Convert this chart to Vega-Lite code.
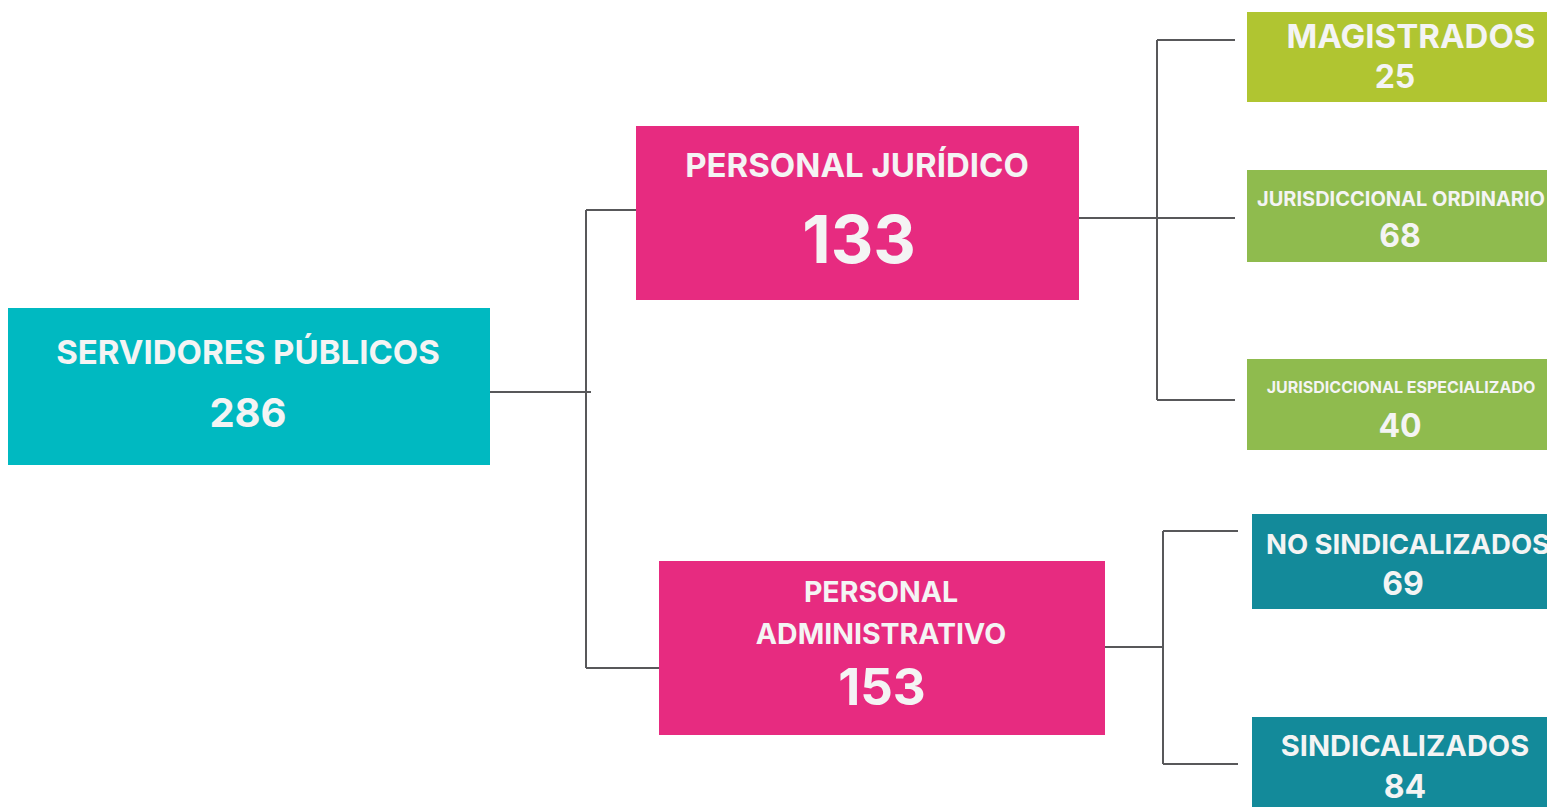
{
  "$schema": "https://vega.github.io/schema/vega-lite/v6.json",
  "width": 1547,
  "height": 807,
  "autosize": {"type": "none"},
  "padding": 0,
  "background": "white",
  "config": {"view": {"stroke": null}},
  "datasets": {
    "boxes": [
      {"id": "SERVIDORES PÚBLICOS", "group": "root", "x0": 8, "x1": 490, "y0": 308, "y1": 465},
      {"id": "PERSONAL JURÍDICO", "group": "mid", "x0": 636, "x1": 1079, "y0": 126, "y1": 300},
      {"id": "PERSONAL ADMINISTRATIVO", "group": "mid", "x0": 659, "x1": 1105, "y0": 561, "y1": 735},
      {"id": "MAGISTRADOS", "group": "mag", "x0": 1247, "x1": 1547, "y0": 12, "y1": 102},
      {"id": "JURISDICCIONAL ORDINARIO", "group": "jur", "x0": 1247, "x1": 1547, "y0": 170, "y1": 262},
      {"id": "JURISDICCIONAL ESPECIALIZADO", "group": "jur", "x0": 1247, "x1": 1547, "y0": 359, "y1": 450},
      {"id": "NO SINDICALIZADOS", "group": "adm", "x0": 1252, "x1": 1547, "y0": 514, "y1": 609},
      {"id": "SINDICALIZADOS", "group": "adm", "x0": 1252, "x1": 1547, "y0": 717, "y1": 807}
    ],
    "edges": [
      {"x0": 490, "y0": 392, "x1": 591, "y1": 392},
      {"x0": 586, "y0": 210, "x1": 586, "y1": 668},
      {"x0": 586, "y0": 210, "x1": 636, "y1": 210},
      {"x0": 586, "y0": 668, "x1": 659, "y1": 668},
      {"x0": 1079, "y0": 218, "x1": 1235, "y1": 218},
      {"x0": 1157, "y0": 40, "x1": 1157, "y1": 400},
      {"x0": 1157, "y0": 40, "x1": 1235, "y1": 40},
      {"x0": 1157, "y0": 400, "x1": 1235, "y1": 400},
      {"x0": 1105, "y0": 647, "x1": 1163, "y1": 647},
      {"x0": 1163, "y0": 531, "x1": 1163, "y1": 764},
      {"x0": 1163, "y0": 531, "x1": 1238, "y1": 531},
      {"x0": 1163, "y0": 764, "x1": 1238, "y1": 764}
    ],
    "labels": [
      {"text": "SERVIDORES PÚBLICOS", "role": "root_t", "x": 248, "y": 354},
      {"text": "286", "role": "root_n", "x": 248, "y": 415},
      {"text": "PERSONAL JURÍDICO", "role": "pj_t", "x": 857, "y": 167},
      {"text": "133", "role": "pj_n", "x": 859, "y": 243},
      {"text": "PERSONAL", "role": "pa_t", "x": 881, "y": 593},
      {"text": "ADMINISTRATIVO", "role": "pa_t", "x": 881, "y": 635},
      {"text": "153", "role": "pa_n", "x": 882, "y": 690},
      {"text": "MAGISTRADOS", "role": "mag_t", "x": 1411, "y": 38},
      {"text": "25", "role": "leaf_n", "x": 1395, "y": 78},
      {"text": "JURISDICCIONAL ORDINARIO", "role": "jo_t", "x": 1401, "y": 200},
      {"text": "68", "role": "leaf_n", "x": 1400, "y": 237},
      {"text": "JURISDICCIONAL ESPECIALIZADO", "role": "je_t", "x": 1401, "y": 388},
      {"text": "40", "role": "leaf_n", "x": 1400, "y": 427},
      {"text": "NO SINDICALIZADOS", "role": "ns_t", "x": 1408, "y": 546},
      {"text": "69", "role": "leaf_n", "x": 1403, "y": 585},
      {"text": "SINDICALIZADOS", "role": "sind_t", "x": 1405, "y": 747},
      {"text": "84", "role": "leaf_n", "x": 1405, "y": 788}
    ]
  },
  "layer": [
    {
      "data": {"name": "edges"},
      "mark": {"type": "rule", "color": "#58585a", "strokeWidth": 2},
      "encoding": {
        "x": {"field": "x0", "type": "quantitative", "scale": {"domain": [0, 1547], "nice": false, "zero": false}, "axis": null},
        "x2": {"field": "x1"},
        "y": {"field": "y0", "type": "quantitative", "scale": {"domain": [0, 807], "nice": false, "zero": false, "reverse": true}, "axis": null},
        "y2": {"field": "y1"}
      }
    },
    {
      "data": {"name": "boxes"},
      "mark": {"type": "rect"},
      "encoding": {
        "x": {"field": "x0", "type": "quantitative", "scale": {"domain": [0, 1547], "nice": false, "zero": false}, "axis": null},
        "x2": {"field": "x1"},
        "y": {"field": "y0", "type": "quantitative", "scale": {"domain": [0, 807], "nice": false, "zero": false, "reverse": true}, "axis": null},
        "y2": {"field": "y1"},
        "color": {
          "field": "group", "type": "nominal", "legend": null,
          "scale": {"domain": ["root", "mid", "mag", "jur", "adm"], "range": ["#00b9c1", "#e72b80", "#b0c531", "#8fbb4e", "#138a9a"]}
        }
      }
    },
    {
      "data": {"name": "labels"},
      "mark": {"type": "text", "font": "Inter", "fontWeight": 700, "align": "center", "baseline": "middle", "color": "#f4f4f4"},
      "encoding": {
        "x": {"field": "x", "type": "quantitative", "scale": {"domain": [0, 1547], "nice": false, "zero": false}, "axis": null},
        "y": {"field": "y", "type": "quantitative", "scale": {"domain": [0, 807], "nice": false, "zero": false, "reverse": true}, "axis": null},
        "text": {"field": "text"},
        "size": {
          "field": "role", "type": "ordinal", "legend": null,
          "scale": {
            "type": "ordinal",
            "domain": ["root_t", "root_n", "pj_t", "pj_n", "pa_t", "pa_n", "mag_t", "leaf_n", "jo_t", "je_t", "ns_t", "sind_t"],
            "range": [33, 40, 33, 66, 28.5, 51, 33, 32, 20, 16, 27.5, 29]
          }
        }
      }
    }
  ]
}
